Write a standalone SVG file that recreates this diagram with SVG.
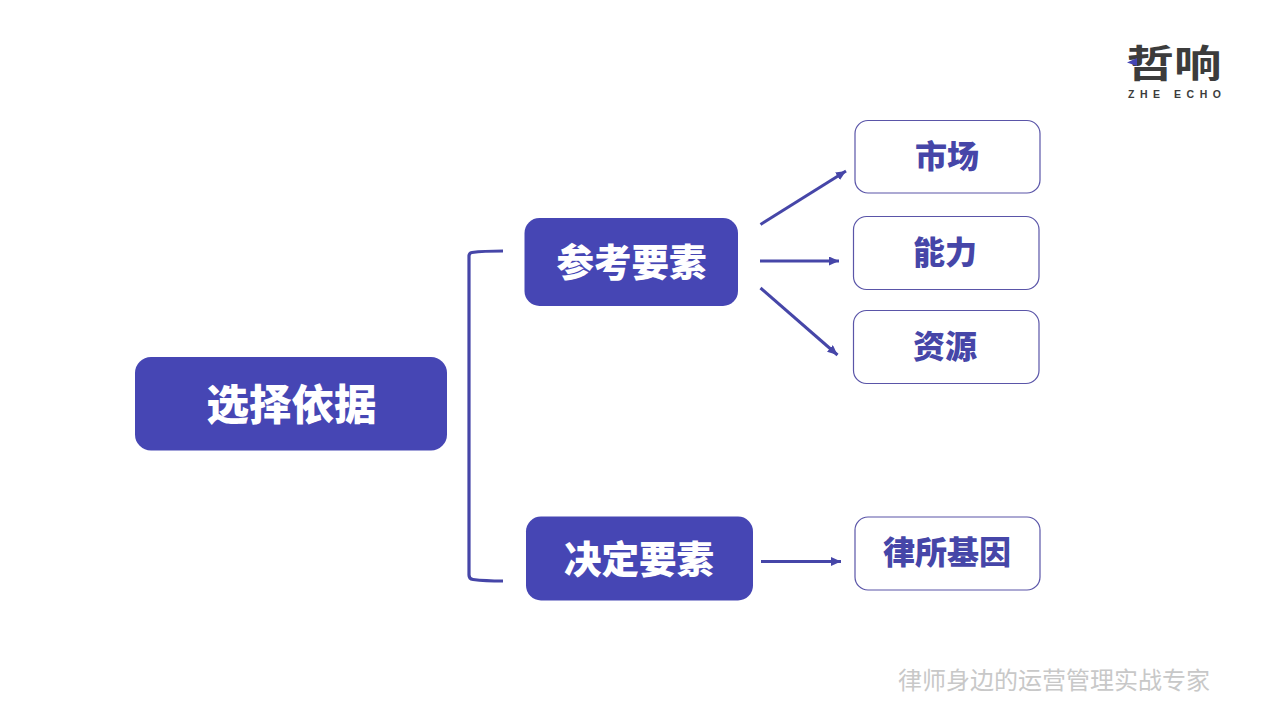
<svg xmlns="http://www.w3.org/2000/svg" width="1280" height="720" viewBox="0 0 1280 720">
<style>
text{font-family:"Noto Sans CJK SC","Liberation Sans",sans-serif;text-anchor:middle}
text.latin{font-family:"Liberation Sans",sans-serif}
.solid{fill:#4646b4}
.outline{fill:#fff;stroke:#5a55a8;stroke-width:1.2}
.w{fill:#fff;font-weight:900}
.b{fill:#4646a8;font-weight:900;font-size:32px}
.c{fill:none;stroke:#4646a8;stroke-width:3.2}
.a{fill:none;stroke:#4646a8;stroke-width:3;marker-end:url(#ah)}
</style>
<defs><marker id="ah" markerUnits="userSpaceOnUse" markerWidth="11" markerHeight="9" refX="10" refY="4.500" orient="auto"><path d="M0 0L10 4.500L0 9Z" fill="#4646a8"/></marker></defs>
<rect width="1280" height="720" fill="#fff"/>
<g id="connectors">
<path class="c" d="M503 251Q483 251 472 252.500Q469 253 469 256V575Q469 579 473 579.500Q485 581 503 581"/>
<path class="a" d="M760.500 224.500L846 171"/>
<path class="a" d="M760 261H839"/>
<path class="a" d="M760.500 288L837.500 355"/>
<path class="a" d="M761 561.500H841"/>
</g>
<g id="root"><rect class="solid" x="135" y="357" width="312" height="93.500" rx="16"/><text class="w" x="291.500" y="420" font-size="42.500">选择依据</text></g>
<g id="ref"><rect class="solid" x="524.500" y="218" width="213.500" height="88" rx="15"/><text class="w" x="631.500" y="276" font-size="37.500">参考要素</text></g>
<g id="dec"><rect class="solid" x="526" y="516.500" width="227" height="84" rx="15"/><text class="w" x="639" y="573" font-size="37.500">决定要素</text></g>
<g id="market"><rect class="outline" x="855" y="120.500" width="185" height="72.500" rx="13"/><text class="b" x="947" y="168">市场</text></g>
<g id="ability"><rect class="outline" x="853.500" y="216.500" width="185.500" height="73" rx="13"/><text class="b" x="945" y="264">能力</text></g>
<g id="resource"><rect class="outline" x="853.500" y="310.500" width="185.500" height="73" rx="13"/><text class="b" x="945" y="358">资源</text></g>
<g id="gene"><rect class="outline" x="855" y="517" width="185" height="73" rx="13"/><text class="b" x="947" y="564">律所基因</text></g>
<g id="logo">
<text x="1174" y="77" font-size="37.500" font-weight="700" fill="#3c3c3c" textLength="95" lengthAdjust="spacingAndGlyphs">哲响</text>
<path d="M1137 58L1127 62.500L1137 66Z" fill="#4646b4"/>
<text class="latin" x="1174.500" y="97.500" font-size="10.500" font-weight="700" fill="#3c3c3c" textLength="93">ZHE ECHO</text>
</g>
<text id="tagline" x="1054" y="689" font-size="24" fill="#c8c8c8">律师身边的运营管理实战专家</text>
</svg>
